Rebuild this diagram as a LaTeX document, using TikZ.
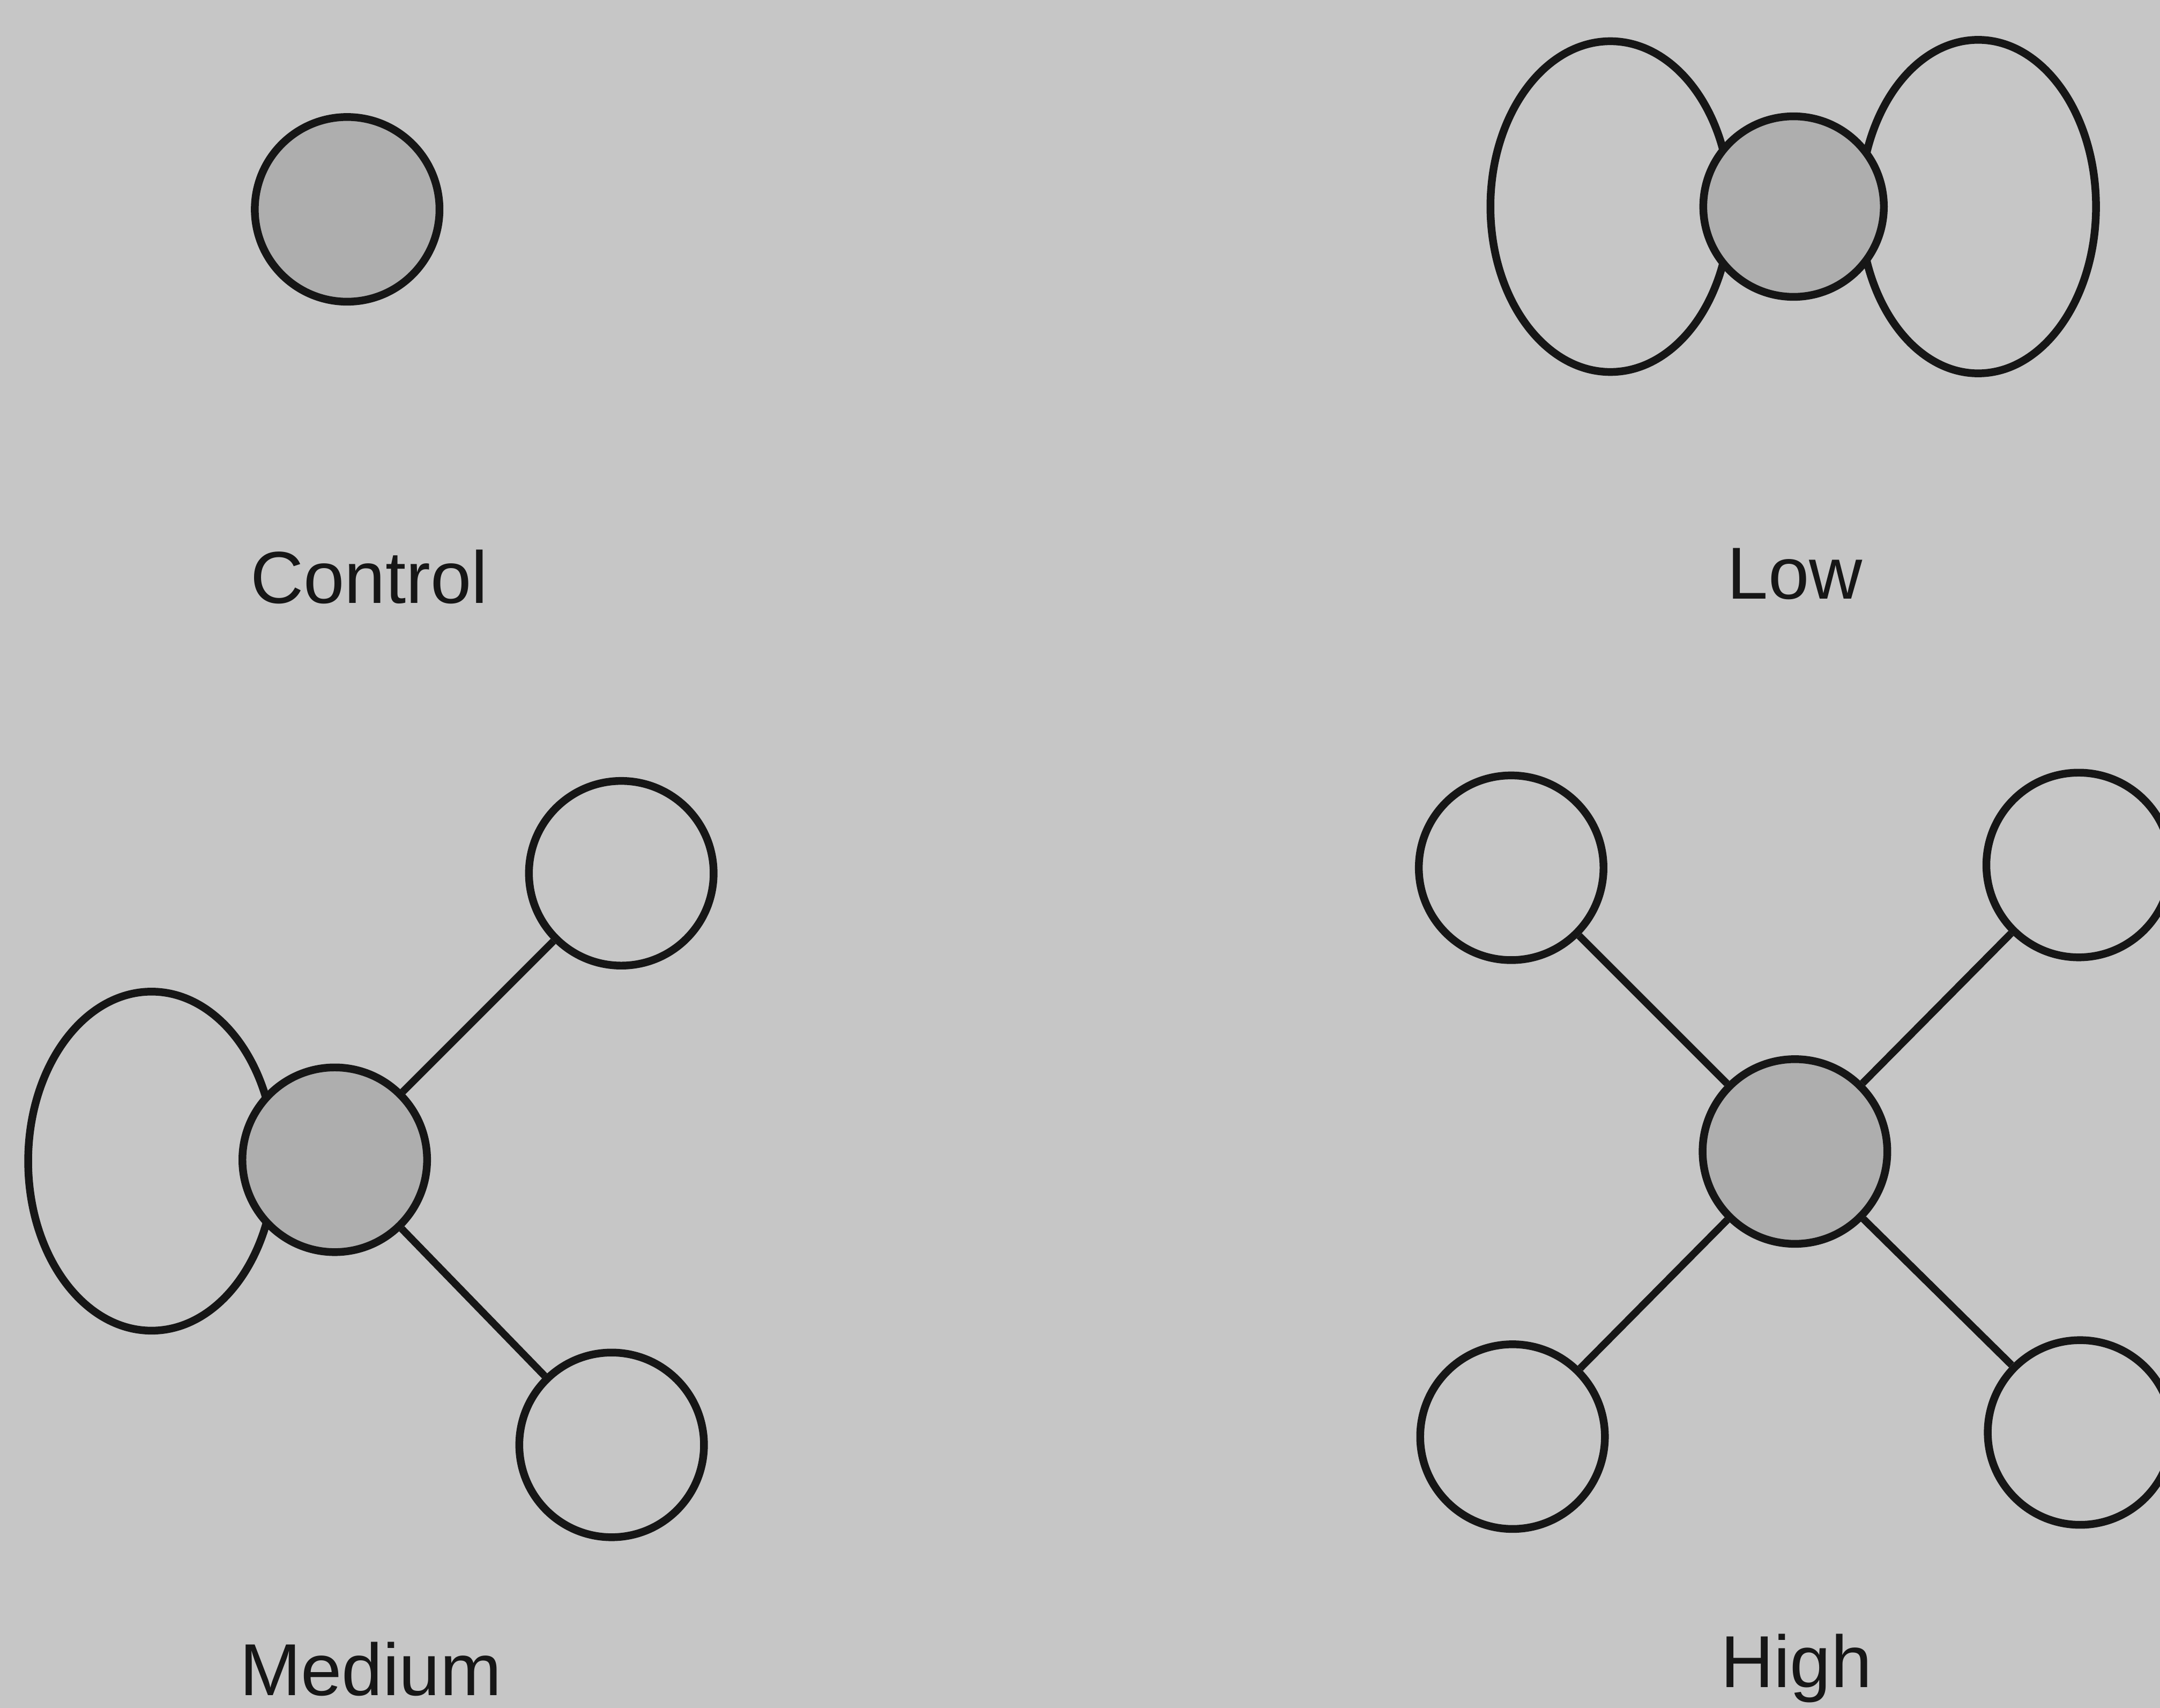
\documentclass[tikz,border=0pt]{standalone}
\usepackage{fontspec}
\setmainfont{Liberation Sans}
\usetikzlibrary{shapes.geometric}
\definecolor{bg}{RGB}{198,198,198}
\definecolor{core}{RGB}{174,174,174}
\definecolor{ink}{RGB}{22,22,22}
\begin{document}
\begin{tikzpicture}[x=0.01cm,y=-0.01cm,
  ball/.style={circle,draw=ink,line width=1.6pt,inner sep=0pt,minimum size=1.34cm},
  corenode/.style={ball,fill=core},
  lobe/.style={ellipse,draw=ink,line width=1.6pt,inner sep=0pt},
  link/.style={draw=ink,line width=1.5pt},
  lbl/.style={font=\fontsize{15.2pt}{18pt}\selectfont,anchor=base,inner sep=0pt,text=ink}]
\useasboundingbox (0,0) rectangle (1568,1240);
\clip (0,0) rectangle (1568,1240);
\fill[bg] (0,0) rectangle (1568,1240);
% Control
\node[corenode] (ctrl) at (252,152) {};
\node[lbl] (tctrl) at (268,438) {Control};
% Low
\node[lobe,minimum width=1.74cm,minimum height=2.40cm] (lowL) at (1169,150) {};
\node[lobe,minimum width=1.71cm,minimum height=2.42cm] (lowR) at (1436,150) {};
\node[corenode,minimum size=1.31cm] (lowc) at (1302,150) {};
\node[lbl] (tlow) at (1303,435) {Low};
% Medium
\node[lobe,minimum width=1.79cm,minimum height=2.46cm] (medL) at (110,843) {};
\node[corenode] (medc) at (243,842) {};
\node[ball] (medTR) at (451,634) {};
\node[ball] (medBR) at (444,1049) {};
\draw[link] (medc) -- (medTR);
\draw[link] (medc) -- (medBR);
\node[lbl] (tmed) at (269,1231) {Medium};
% High
\node[corenode] (highc) at (1303,836) {};
\node[ball] (hTL) at (1097,630) {};
\node[ball] (hTR) at (1509,628) {};
\node[ball] (hBL) at (1098,1043) {};
\node[ball] (hBR) at (1510,1040) {};
\draw[link] (highc) -- (hTL);
\draw[link] (highc) -- (hTR);
\draw[link] (highc) -- (hBL);
\draw[link] (highc) -- (hBR);
\node[lbl] (thigh) at (1304,1225) {High};
\end{tikzpicture}
\end{document}
